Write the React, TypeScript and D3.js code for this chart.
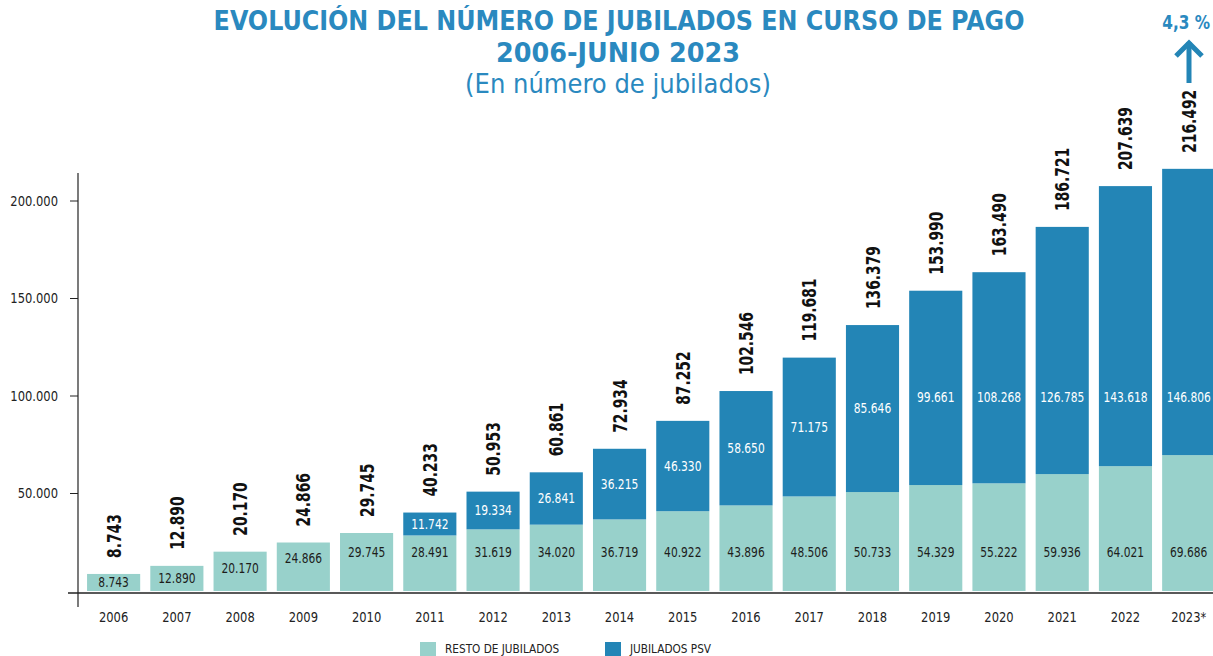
import React from 'react';
import * as d3 from 'd3';

const years = ['2006','2007','2008','2009','2010','2011','2012','2013','2014','2015','2016','2017','2018','2019','2020','2021','2022','2023*'];
const resto = [8743,12890,20170,24866,29745,28491,31619,34020,36719,40922,43896,48506,50733,54329,55222,59936,64021,69686];
const psv = [0,0,0,0,0,11742,19334,26841,36215,46330,58650,71175,85646,99661,108268,126785,143618,146806];
const yTicks = [50000,100000,150000,200000];
const seriesNames = ['RESTO DE JUBILADOS','JUBILADOS PSV'];
const growthLabel = '4,3 %';

const W = 1213, H = 656;
const LIGHT = '#98d1cb';
const DARK = '#2385b6';
const TITLE = '#2a89bf';
const FONT = "'DejaVu Sans Condensed', 'DejaVu Sans', sans-serif";

const loc = d3.formatLocale({ decimal: ',', thousands: '.', grouping: [3], currency: ['', '€'] });
const fmt = loc.format(',');

function T({ x, y, sx = 1, anchor = 'middle', size, weight, fill, children, dy }: any) {
  return (
    <text transform={`translate(${x},${y}) scale(${sx},1)`} textAnchor={anchor} fontSize={size} fontWeight={weight} fill={fill} dy={dy}>{children}</text>
  );
}

export default function App() {
  const rows = years.map((y, i) => ({ year: y, resto: resto[i], psv: psv[i] }));
  const stack = d3.stack<any>().keys(['resto', 'psv'])(rows);

  const x = d3.scaleBand<string>().domain(years).range([82, 82 + 18 * 63.24]).paddingInner(0.16).paddingOuter(0.08);
  const y = d3.scaleLinear().domain([0, 230000]).range([591, 142.5]);
  const colors = [LIGHT, DARK];
  const bw = x.bandwidth();

  return (
    <svg width={W} height={H} style={{ position: 'absolute', left: 0, top: 0, background: '#fff' }} fontFamily={FONT}>
      {/* Titles */}
      <T x={619} y={30} size={26.5} weight="bold" fill={TITLE}>EVOLUCIÓN DEL NÚMERO DE JUBILADOS EN CURSO DE PAGO</T>
      <T x={618} y={62} size={27} weight="bold" fill={TITLE} sx={1.05}>2006-JUNIO 2023</T>
      <T x={618} y={93} size={27} fill={TITLE}>(En número de jubilados)</T>

      {/* growth indicator */}
      <T x={1210} y={29} anchor="end" size={20} weight="bold" fill={TITLE} sx={0.85}>{growthLabel}</T>
      <g stroke={DARK} strokeWidth={5} fill="none">
        <line x1={1189} y1={42} x2={1189} y2={83} />
        <polyline points="1176,56 1189,43 1202,56" />
      </g>

      {/* bars */}
      {stack.map((s, si) => (
        <g key={si} fill={colors[si]}>
          {s.map((d, i) => d[1] - d[0] > 0 ? (
            <rect key={i} x={x(years[i])} y={y(d[1])} width={bw} height={y(d[0]) - y(d[1])} />
          ) : null)}
        </g>
      ))}

      {/* inside labels */}
      {rows.map((r, i) => {
        const cx = (x(r.year) as number) + bw / 2;
        const top = y(r.resto), bot = y(0);
        const ly = Math.max(552, Math.min((top + bot) / 2, top + 16));
        const els = [
          <T key={'r' + i} x={cx} y={ly} dy="0.36em" size={13.5} sx={0.88} fill="#1d1d1b">{fmt(r.resto)}</T>
        ];
        if (r.psv > 0) {
          const pt = y(r.resto + r.psv), pb = y(r.resto);
          const py = Math.max(397, (pt + pb) / 2);
          els.push(<T key={'p' + i} x={cx} y={py} dy="0.36em" size={13.5} sx={0.88} fill="#fff">{fmt(r.psv)}</T>);
        }
        return els;
      })}

      {/* total labels */}
      {rows.map((r, i) => {
        const cx = (x(r.year) as number) + bw / 2;
        const t = y(r.resto + r.psv) - 16;
        return (
          <text key={'t' + i} transform={`translate(${cx + 7},${t}) rotate(-90) scale(0.77,1)`} fontSize={20} fontWeight="bold" fill="#111">{fmt(r.resto + r.psv)}</text>
        );
      })}

      {/* axes */}
      <line x1={68} x2={W} y1={593} y2={593} stroke="#222" strokeWidth={1.5} />
      <line x1={78} x2={78} y1={173} y2={607} stroke="#222" strokeWidth={1.2} />
      {yTicks.map(t => (
        <g key={t}>
          <line x1={70} x2={78} y1={y(t)} y2={y(t)} stroke="#222" strokeWidth={1} />
          <T x={58} y={y(t)} dy="0.36em" anchor="end" size={13.5} sx={0.95} fill="#222">{fmt(t)}</T>
        </g>
      ))}
      {years.map(yr => (
        <T key={yr} x={(x(yr) as number) + bw / 2} y={622} size={13.5} sx={0.95} fill="#222">{yr}</T>
      ))}

      {/* legend */}
      {seriesNames.map((n, i) => (
        <g key={n} transform={`translate(${i === 0 ? 420 : 605},642)`}>
          <rect width={16} height={14} fill={colors[i]} />
          <T x={25} y={10.5} anchor="start" size={13} sx={0.9} fill="#222">{n}</T>
        </g>
      ))}
    </svg>
  );
}
